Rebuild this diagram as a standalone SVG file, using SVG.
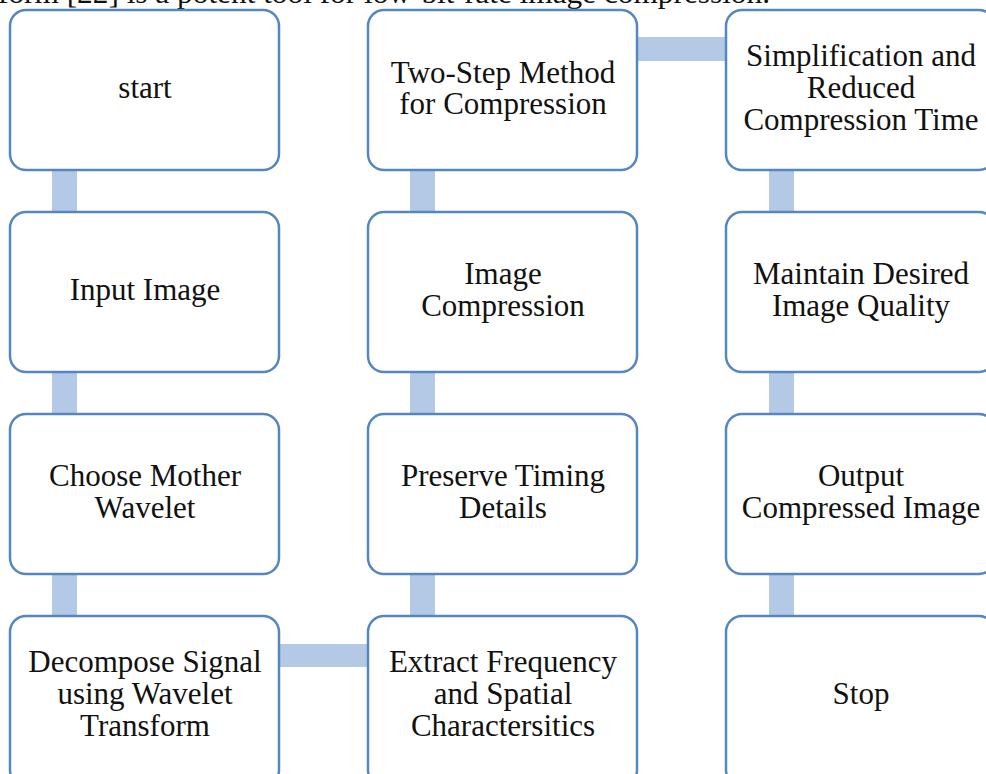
<svg xmlns="http://www.w3.org/2000/svg" width="986" height="774" viewBox="0 0 986 774">
  <style>
    .box { fill: #ffffff; stroke: #5586bf; stroke-width: 2.5; }
    .link { fill: #b4c9e6; stroke: none; }
    .lbl { font-family: "Liberation Serif", "DejaVu Serif", serif; font-size: 31px; fill: #111111; text-anchor: middle; }
    .body { font-family: "Liberation Serif", "DejaVu Serif", serif; font-size: 30px; fill: #111111; }
  </style>
  <rect width="986" height="774" fill="#ffffff"/>

  <!-- running text line above the chart (clipped at the top edge) -->
  <text class="body" x="-2" y="3" textLength="772" lengthAdjust="spacingAndGlyphs">form [22] is a potent tool for low-bit-rate image compression.</text>

  <!-- connectors -->
  <g id="connectors">
    <rect class="link" x="52" y="170" width="25" height="42"/>
    <rect class="link" x="52" y="372" width="25" height="42"/>
    <rect class="link" x="52" y="574" width="25" height="42"/>
    <rect class="link" x="279" y="644" width="89" height="23"/>
    <rect class="link" x="410" y="574" width="25" height="42"/>
    <rect class="link" x="410" y="372" width="25" height="42"/>
    <rect class="link" x="410" y="170" width="25" height="42"/>
    <rect class="link" x="637" y="37" width="89" height="24"/>
    <rect class="link" x="769" y="170" width="25" height="42"/>
    <rect class="link" x="769" y="372" width="25" height="42"/>
    <rect class="link" x="769" y="574" width="25" height="42"/>
  </g>

  <!-- column 1 -->
  <g id="start">
    <rect class="box" x="10" y="10" width="269" height="160" rx="16"/>
    <text class="lbl" x="145" y="98">start</text>
  </g>
  <g id="input-image">
    <rect class="box" x="10" y="212" width="269" height="160" rx="16"/>
    <text class="lbl" x="145" y="300">Input Image</text>
  </g>
  <g id="choose-wavelet">
    <rect class="box" x="10" y="414" width="269" height="160" rx="16"/>
    <text class="lbl" x="145" y="486">Choose Mother</text>
    <text class="lbl" x="145" y="518">Wavelet</text>
  </g>
  <g id="decompose">
    <rect class="box" x="10" y="616" width="269" height="170" rx="16"/>
    <text class="lbl" x="145" y="672">Decompose Signal</text>
    <text class="lbl" x="145" y="704">using Wavelet</text>
    <text class="lbl" x="145" y="736">Transform</text>
  </g>

  <!-- column 2 -->
  <g id="extract">
    <rect class="box" x="368" y="616" width="269" height="170" rx="16"/>
    <text class="lbl" x="503" y="672">Extract Frequency</text>
    <text class="lbl" x="503" y="704">and Spatial</text>
    <text class="lbl" x="503" y="736">Charactersitics</text>
  </g>
  <g id="preserve-timing">
    <rect class="box" x="368" y="414" width="269" height="160" rx="16"/>
    <text class="lbl" x="503" y="486">Preserve Timing</text>
    <text class="lbl" x="503" y="518">Details</text>
  </g>
  <g id="image-compression">
    <rect class="box" x="368" y="212" width="269" height="160" rx="16"/>
    <text class="lbl" x="503" y="284">Image</text>
    <text class="lbl" x="503" y="316">Compression</text>
  </g>
  <g id="two-step">
    <rect class="box" x="368" y="10" width="269" height="160" rx="16"/>
    <text class="lbl" x="503" y="83">Two-Step Method</text>
    <text class="lbl" x="503" y="114">for Compression</text>
  </g>

  <!-- column 3 -->
  <g id="simplification">
    <rect class="box" x="726" y="10" width="269" height="160" rx="16"/>
    <text class="lbl" x="861" y="66">Simplification and</text>
    <text class="lbl" x="861" y="98">Reduced</text>
    <text class="lbl" x="861" y="130">Compression Time</text>
  </g>
  <g id="maintain-quality">
    <rect class="box" x="726" y="212" width="269" height="160" rx="16"/>
    <text class="lbl" x="861" y="284">Maintain Desired</text>
    <text class="lbl" x="861" y="316">Image Quality</text>
  </g>
  <g id="output">
    <rect class="box" x="726" y="414" width="269" height="160" rx="16"/>
    <text class="lbl" x="861" y="486">Output</text>
    <text class="lbl" x="861" y="518">Compressed Image</text>
  </g>
  <g id="stop">
    <rect class="box" x="726" y="616" width="269" height="170" rx="16"/>
    <text class="lbl" x="861" y="704">Stop</text>
  </g>
</svg>
